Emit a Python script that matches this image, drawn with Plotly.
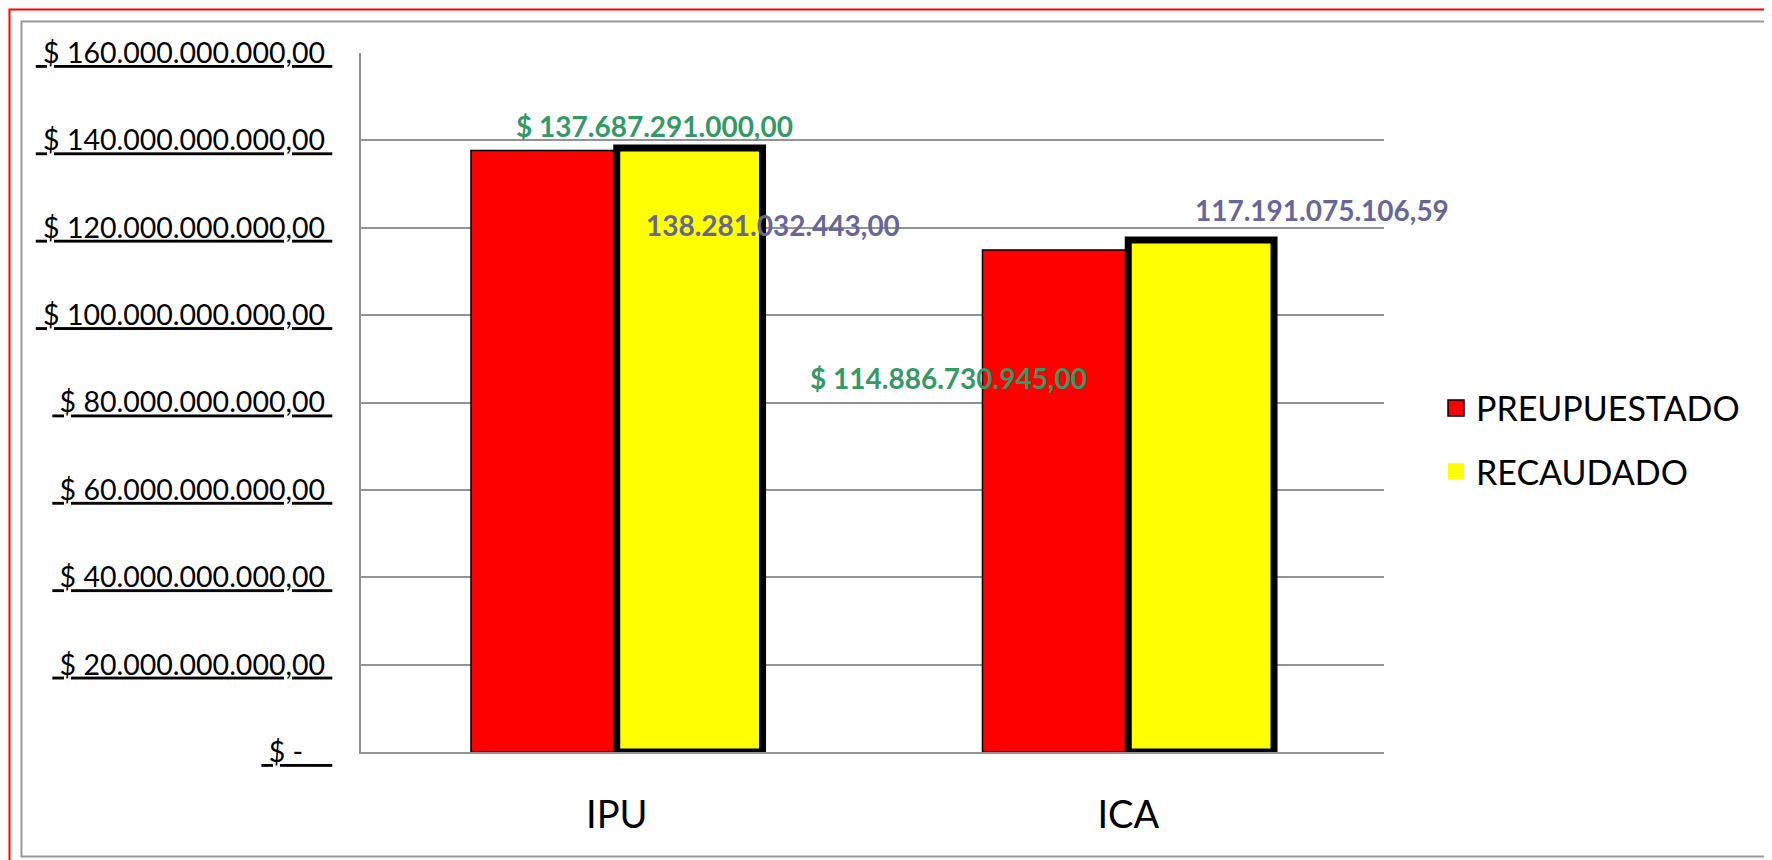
import plotly.graph_objects as go

# ---- data ----
categories = ["IPU", "ICA"]
presupuestado = [137687291000.00, 114886730945.00]
recaudado = [138281032443.00, 117191075106.59]
presupuestado_labels = ["$ 137.687.291.000,00", "$ 114.886.730.945,00"]
recaudado_labels = ["138.281.032.443,00", "117.191.075.106,59"]
series_names = ["PREUPUESTADO", "RECAUDADO"]
y_tickvals = [0, 20e9, 40e9, 60e9, 80e9, 100e9, 120e9, 140e9, 160e9]
y_ticktext = [
    "\u00a0$ -\u00a0\u00a0\u00a0\u00a0",
    "\u00a0$ 20.000.000.000,00\u00a0",
    "\u00a0$ 40.000.000.000,00\u00a0",
    "\u00a0$ 60.000.000.000,00\u00a0",
    "\u00a0$ 80.000.000.000,00\u00a0",
    "\u00a0$ 100.000.000.000,00\u00a0",
    "\u00a0$ 120.000.000.000,00\u00a0",
    "\u00a0$ 140.000.000.000,00\u00a0",
    "\u00a0$ 160.000.000.000,00\u00a0",
]

# ---- layout geometry (page pixels; the page body adds an 8px offset) ----
OFF = 8
W, H = 1772 - OFF, 860 - OFF
L, R, T, B = 361, 1384, 53, 752
FONT = "Lato"
GRID = "#939393"
GREEN = "#339966"
PURPLE = "#666699"


def px_x(p):
    return (p - L) / (R - L)


def px_y(p):
    return (B - p) / (B - T)


fig = go.Figure()
fig.add_trace(go.Bar(
    x=categories, y=presupuestado, name=series_names[0], showlegend=False,
    marker=dict(color="#FF0000", line=dict(color="black", width=1.5)),
))
fig.add_trace(go.Bar(
    x=categories, y=recaudado, name=series_names[1], showlegend=False,
    marker=dict(color="#FFFF00", line=dict(color="black", width=7)),
))

# legend entries
fig.add_trace(go.Scatter(
    x=[None], y=[None], mode="markers", name=series_names[0], legendgroup="a",
    marker=dict(symbol="square", size=22, color="#FF0000", line=dict(color="black", width=1.5)),
))
fig.add_trace(go.Scatter(
    x=[None], y=[None], mode="markers", name=series_names[1], legendgroup="b",
    marker=dict(symbol="square", size=22, color="#FFFF00", line=dict(width=0)),
))

# data labels (placed relative to bar tops, as in the original)
pres_shift = [(38, 24), (-180, -128)]
rec_shift = [(156, -77), (194, 30)]
annotations = []
for i, cat in enumerate(categories):
    annotations.append(dict(
        x=cat, y=presupuestado[i], xref="x", yref="y", text=presupuestado_labels[i],
        showarrow=False, xanchor="center", yanchor="middle",
        xshift=pres_shift[i][0], yshift=pres_shift[i][1],
        font=dict(family=FONT, size=28, color=GREEN, weight="bold"),
    ))
    annotations.append(dict(
        x=cat, y=recaudado[i], xref="x", yref="y", text=recaudado_labels[i],
        showarrow=False, xanchor="center", yanchor="middle",
        xshift=rec_shift[i][0], yshift=rec_shift[i][1],
        font=dict(family=FONT, size=28, color=PURPLE, weight="bold"),
    ))

shapes = [
    dict(type="rect", xref="paper", yref="paper",
         x0=px_x(9.5), x1=px_x(1800), y0=px_y(890), y1=px_y(9.5),
         line=dict(color="#FF0000", width=2), fillcolor="rgba(0,0,0,0)", layer="below"),
    dict(type="rect", xref="paper", yref="paper",
         x0=px_x(21.5), x1=px_x(1770.5), y0=px_y(856.5), y1=px_y(21.5),
         line=dict(color="#999999", width=2), fillcolor="rgba(0,0,0,0)", layer="below"),
]

fig.update_layout(
    width=W, height=H,
    margin=dict(l=L - OFF, r=1772 - R, t=T - OFF, b=860 - B, pad=0),
    paper_bgcolor="white", plot_bgcolor="white",
    barmode="group", bargap=0.43, bargroupgap=0,
    font=dict(family=FONT, color="black"),
    showlegend=True,
    legend=dict(
        x=px_x(1436), y=px_y(440), xanchor="left", yanchor="middle",
        font=dict(family=FONT, size=34, color="black"),
        bgcolor="rgba(0,0,0,0)", tracegroupgap=16, traceorder="grouped",
    ),
    annotations=annotations,
    shapes=shapes,
    xaxis=dict(
        type="category", range=[-0.5, 1.5], autorange=False,
        showgrid=False, showline=True, linecolor=GRID, linewidth=2,
        ticks="", tickfont=dict(family=FONT, size=38, color="black"),
        ticklabelstandoff=28, zeroline=False,
    ),
    yaxis=dict(
        range=[0, 160e9], autorange=False, tickmode="array",
        tickvals=y_tickvals, ticktext=y_ticktext,
        showgrid=True, gridcolor=GRID, gridwidth=2,
        showline=True, linecolor=GRID, linewidth=2, zeroline=False,
        ticks="", ticklabelstandoff=21,
        tickfont=dict(family=FONT, size=28.5, color="black", lineposition="under"),
    ),
)

fig.write_html("out.html")
